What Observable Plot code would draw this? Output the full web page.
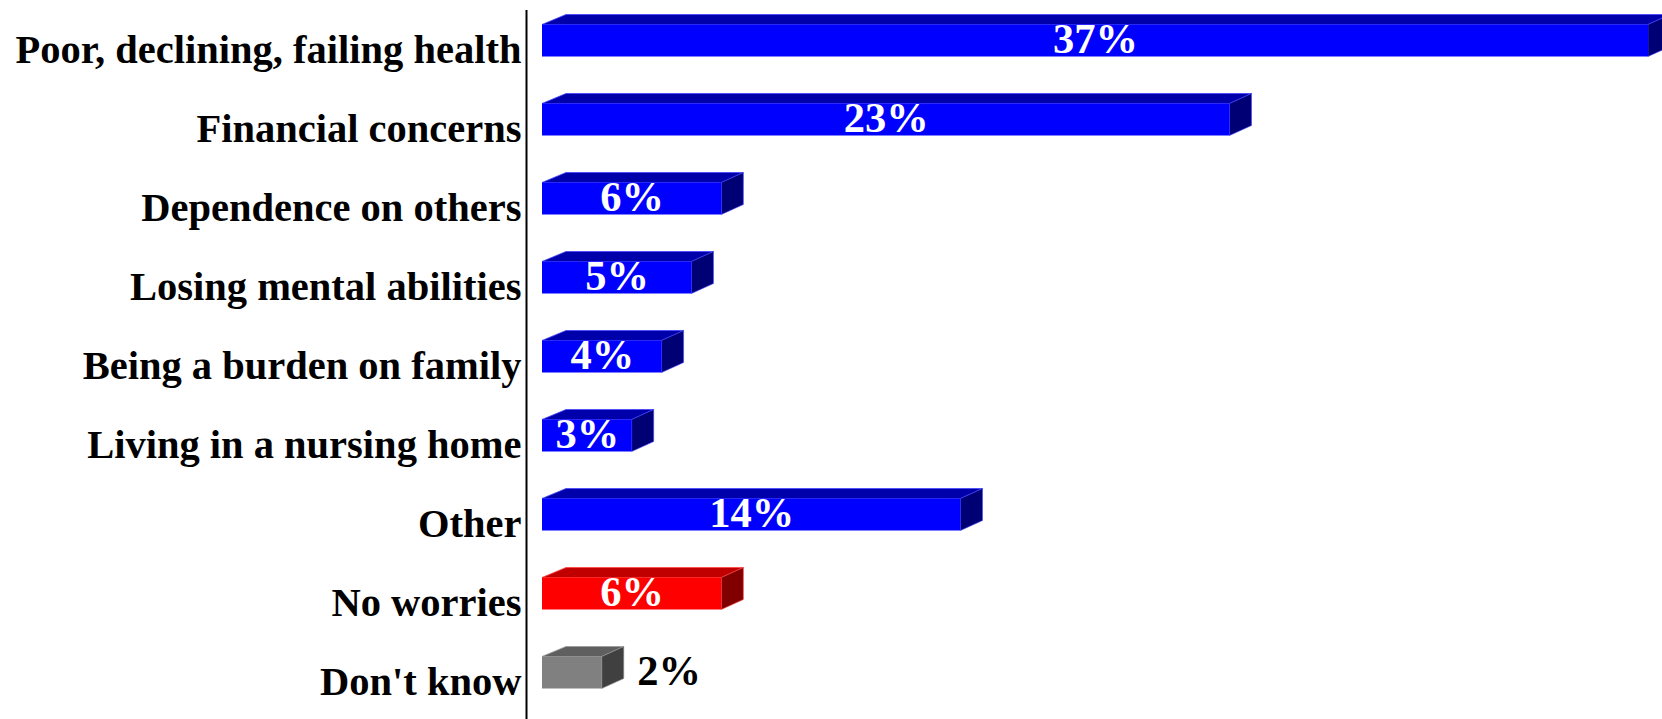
<!DOCTYPE html>
<html><head><meta charset="utf-8">
<script src="https://cdn.jsdelivr.net/npm/d3@7"></script>
<script src="https://cdn.jsdelivr.net/npm/@observablehq/plot@0.6"></script>
<style>body{margin:0;background:#fff;overflow:hidden}</style>
</head><body><div id="chart"></div>
<script>
const categories = [
  "Poor, declining, failing health",
  "Financial concerns",
  "Dependence on others",
  "Losing mental abilities",
  "Being a burden on family",
  "Living in a nursing home",
  "Other",
  "No worries",
  "Don't know"
];
const values = [37, 23, 6, 5, 4, 3, 14, 6, 2];
const groups = ["worry", "worry", "worry", "worry", "worry", "worry", "worry", "none", "unknown"];
const valueLabels = ["37%", "23%", "6%", "5%", "4%", "3%", "14%", "6%", "2%"];

const data = categories.map((c, i) => ({category: c, value: values[i], group: groups[i], label: valueLabels[i]}));

const palette = {
  worry:   {front: "#0000ff", top: "#0000aa", side: "#000075", edge: "#4444ff"},
  none:    {front: "#ff0000", top: "#c00000", side: "#800000", edge: "#ff4444"},
  unknown: {front: "#808080", top: "#5f5f5f", side: "#404040", edge: "#999999"}
};
const groupNames = Object.keys(palette);

const FONT = "'Liberation Serif', 'Times New Roman', serif";
const FRONT_INSET = 23.5, DX_L = 24, DX_R = 22, DY = 10;

function depthFaces(index, scales) {
  const x = scales.x, y = scales.y;
  const bw = typeof y.bandwidth === "function" ? y.bandwidth() : (scales.scales && scales.scales.y.bandwidth);
  const g = d3.create("svg:g");
  for (const d of data) {
    const x0 = x(0), x1 = x(d.value);
    const yt = y(d.category) + FRONT_INSET, yb = y(d.category) + bw - FRONT_INSET;
    const p = palette[d.group];
    g.append("polygon")
      .attr("points", [[x0, yt], [x0 + DX_L, yt - DY], [x1 + DX_R, yt - DY], [x1, yt]].join(" "))
      .attr("fill", p.top).attr("stroke", p.edge).attr("stroke-width", 0.8);
    g.append("polygon")
      .attr("points", [[x1, yt], [x1 + DX_R, yt - DY], [x1 + DX_R, yb - DY], [x1, yb]].join(" "))
      .attr("fill", p.side).attr("stroke", p.edge).attr("stroke-width", 0.6);
  }
  return g.node();
}

const chart = Plot.plot({
  width: 1662,
  height: 719,
  marginTop: 0, marginBottom: 0, marginLeft: 0, marginRight: 0,
  style: {fontFamily: FONT, background: "white", overflow: "visible"},
  x: {domain: [0, 37], range: [542, 1648], axis: null},
  y: {domain: categories, range: [0, 712], padding: 0, axis: null},
  color: {domain: groupNames, range: groupNames.map(k => palette[k].front)},
  marks: [
    Plot.ruleX([0], {dx: -16, insetTop: 10, stroke: "black", strokeWidth: 2}),
    depthFaces,
    Plot.barX(data, {x: "value", y: "category", fill: "group", insetTop: FRONT_INSET, insetBottom: FRONT_INSET}),
    Plot.text(data.filter(d => d.group !== "unknown"), {
      x: d => d.value / 2, y: "category", text: "label",
      fill: "white", fontSize: 42.5, fontWeight: "bold", dy: -2
    }),
    Plot.text(data.filter(d => d.group === "unknown"), {
      x: "value", y: "category", text: "label", textAnchor: "start",
      fill: "black", fontSize: 42.5, fontWeight: "bold", dx: 35, dy: -2
    }),
    Plot.text(data, {
      x: 0, y: "category", text: "category", textAnchor: "end",
      fill: "black", fontSize: 40.5, fontWeight: "bold", dx: -21, dy: 9.5
    })
  ]
});
document.getElementById("chart").append(chart);
</script>
</body></html>
